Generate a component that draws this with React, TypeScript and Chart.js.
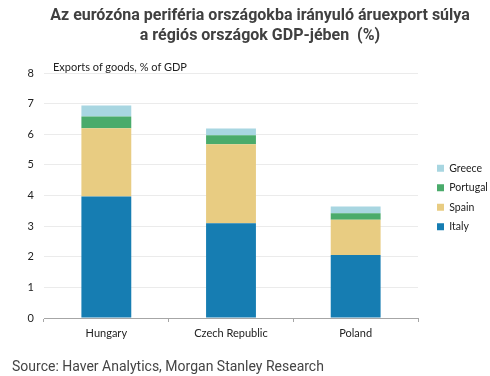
import React, { useEffect, useRef } from "react";
import { Chart, registerables } from "chart.js";

Chart.register(...registerables);

const titleLines = [
  "Az eurózóna periféria országokba irányuló áruexport súlya",
  "a régiós országok GDP-jében  (%)",
];
const axisLabel = "Exports of goods, % of GDP";
const sourceText = "Source: Haver Analytics, Morgan Stanley Research";

const categories = ["Hungary", "Czech Republic", "Poland"];
const italy = [3.97, 3.09, 2.06];
const spain = [2.23, 2.58, 1.15];
const portugal = [0.38, 0.3, 0.21];
const greece = [0.36, 0.22, 0.22];
const yMin = 0;
const yMax = 8;
const yStep = 1;

const seriesNames = ["Italy", "Spain", "Portugal", "Greece"];
const seriesColors = ["#167db2", "#e8cc82", "#4aab6b", "#a8d6e1"];

const CHART_FONT = "Lato, 'Liberation Sans', sans-serif";

const layoutFix = {
  id: "layoutFix",
  beforeLayout(chart: any) {
    const lg: any = chart.legend;
    if (lg && !lg.__patched) {
      const orig = lg.fit;
      lg.fit = function () {
        orig.call(this);
        this.width = 72;
      };
      lg.__patched = true;
    }
  },
  afterLayout(chart: any) {
    const lg: any = chart.legend;
    if (lg) {
      lg.left = 428;
      lg.right = lg.left + 72;
      lg.top = 154;
    }
  },
};

export default function App() {
  const canvasRef = useRef<HTMLCanvasElement | null>(null);

  useEffect(() => {
    if (!canvasRef.current) return;
    const values = [italy, spain, portugal, greece];
    const chart = new Chart(canvasRef.current, {
      type: "bar",
      data: {
        labels: categories,
        datasets: values.map((v, i) => ({
          label: seriesNames[i],
          data: v,
          backgroundColor: seriesColors[i],
          borderWidth: 0,
          barPercentage: 1,
          categoryPercentage: 0.4,
        })),
      },
      options: {
        animation: false,
        responsive: true,
        maintainAspectRatio: false,
        layout: { padding: { top: 73, left: 0, right: 0, bottom: 0 } },
        plugins: {
          legend: {
            position: "right",
            align: "start",
            reverse: true,
            labels: {
              boxWidth: 7,
              boxHeight: 7,
              padding: 9,
              color: "#222",
              font: { family: CHART_FONT, size: 10.5 },
            },
          },
          tooltip: { enabled: false },
          title: { display: false },
        },
        scales: {
          x: {
            stacked: true,
            grid: {
              drawOnChartArea: false,
              drawTicks: true,
              tickLength: 4,
              color: "#a6a6a6",
              offset: true,
            },
            border: { display: true, color: "#a6a6a6" },
            ticks: {
              padding: 5,
              color: "#222",
              font: { family: CHART_FONT, size: 11 },
            },
            afterFit: (s: any) => {
              s.height = 58;
            },
          },
          y: {
            stacked: true,
            min: yMin,
            max: yMax,
            ticks: {
              stepSize: yStep,
              padding: 10,
              color: "#222",
              font: { family: CHART_FONT, size: 11 },
            },
            grid: {
              drawTicks: false,
              color: (ctx: any) =>
                ctx.tick && ctx.tick.value === 0 ? "rgba(0,0,0,0)" : "#ebebeb",
            },
            border: { display: false },
            afterFit: (s: any) => {
              s.width = 44;
            },
          },
        },
      },
      plugins: [layoutFix],
    });
    return () => chart.destroy();
  }, []);

  return (
    <div
      style={{
        position: "absolute",
        left: 0,
        top: 0,
        width: 490,
        height: 376,
        background: "#fff",
        overflow: "hidden",
      }}
    >
      <div style={{ position: "absolute", left: 0, top: 0, width: 490, height: 376 }}>
        <canvas ref={canvasRef} />
      </div>
      <div
        style={{
          position: "absolute",
          left: 30,
          top: 5,
          width: 460,
          textAlign: "center",
          fontFamily: "Roboto, sans-serif",
          fontWeight: 700,
          fontSize: 16,
          lineHeight: "20px",
          color: "#404040",
          whiteSpace: "pre",
          pointerEvents: "none",
        }}
      >
        {titleLines.map((l, i) => (
          <div key={i}>{l}</div>
        ))}
      </div>
      <div
        style={{
          position: "absolute",
          left: 53,
          top: 60,
          fontFamily: CHART_FONT,
          fontSize: 11,
          lineHeight: "13px",
          color: "#222",
          whiteSpace: "nowrap",
          pointerEvents: "none",
        }}
      >
        {axisLabel}
      </div>
      <div
        style={{
          position: "absolute",
          left: 12,
          top: 358,
          fontFamily: "Roboto, sans-serif",
          fontSize: 14,
          color: "#444",
          whiteSpace: "nowrap",
          pointerEvents: "none",
        }}
      >
        {sourceText}
      </div>
    </div>
  );
}
